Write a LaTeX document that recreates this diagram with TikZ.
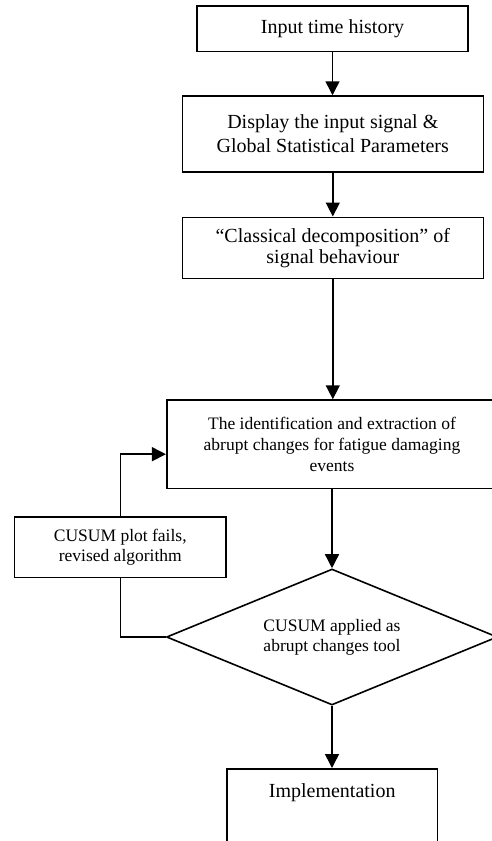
\documentclass[tikz,border=0pt]{standalone}
\usepackage{fontspec}
\setmainfont{Liberation Serif}
\usetikzlibrary{shapes.geometric,arrows.meta}
\begin{document}
\begin{tikzpicture}[x=1pt,y=-1pt,
  box/.style={draw, line width=1.6pt, align=center, inner sep=0pt},
  bigtext/.style={font=\fontsize{20}{24}\selectfont},
  smalltext/.style={font=\fontsize{17.5}{21}\selectfont},
  arr/.style={line width=1.5pt, -{Triangle[length=14pt,width=14pt]}},
  link/.style={line width=1.5pt}]
\clip (0,0) rectangle (492,841);
\fill[white] (0,0) rectangle (492,841);

\node[box,bigtext,minimum width=271pt,minimum height=45.7pt] (b1) at (332.5,28.8) {Input time history};
\node[box,font=\fontsize{20}{24}\selectfont,minimum width=301pt,minimum height=75.7pt] (b2) at (332.8,133.9) {Display the input signal \&\\Global Statistical Parameters};
\node[box,font=\fontsize{20}{21}\selectfont,minimum width=301pt,minimum height=61pt] (b3) at (332.8,247.8) {“Classical decomposition” of\\signal behaviour};
\node[box,font=\fontsize{17.5}{21}\selectfont,minimum width=330.6pt,minimum height=88.3pt] (b4) at (332,444.2) {The identification and extraction of\\abrupt changes for fatigue damaging\\events};
\node[box,draw,shape=diamond,aspect=2.43,font=\fontsize{17.5}{20}\selectfont,minimum width=331pt,minimum height=136pt] (d) at (332,637) {CUSUM applied as\\abrupt changes tool};
\node[box,font=\fontsize{17.5}{19.5}\selectfont,minimum width=211.3pt,minimum height=60.6pt] (f) at (120.3,547) {CUSUM plot fails,\\revised algorithm};
\node[box,minimum width=210.3pt,minimum height=110pt,anchor=north] (b6) at (332.2,768) {};
\node[bigtext,anchor=base,inner sep=0pt] (t6) at (332.2,797) {Implementation};

\draw[arr] (b1.south) -- (b1.south |- b2.north);
\draw[arr] (b2.south) -- (b2.south |- b3.north);
\draw[arr] (b3.south) -- (b3.south |- b4.north);
\draw[arr] (b4.south) -- (d.north);
\draw[arr] (d.south) -- (d.south |- b6.north);
\draw[link] (d.west) -| (f.south);
\draw[arr] (f.north) |- ([yshift=-10pt]b4.west);
\end{tikzpicture}
\end{document}
